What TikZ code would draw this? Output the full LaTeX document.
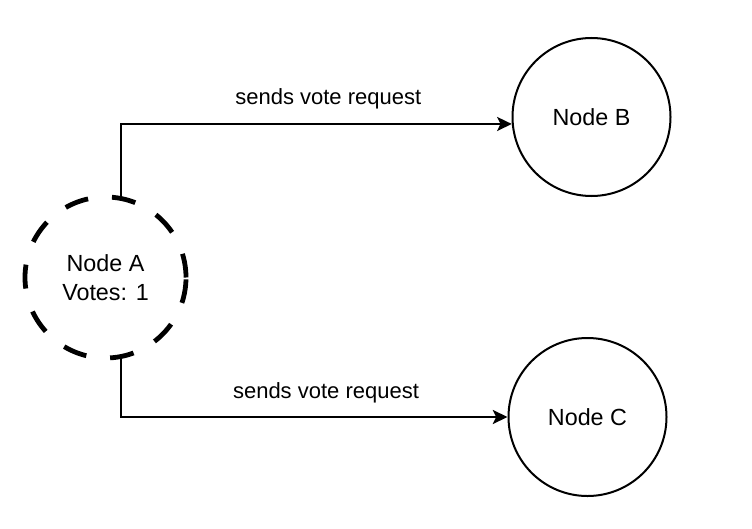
\documentclass[tikz,border=0pt]{standalone}
\usepackage{fontspec}
\setmainfont{Liberation Sans}
\usetikzlibrary{arrows.meta}

\begin{document}
\begin{tikzpicture}[x=0.75pt, y=-0.75pt,
    peer/.style={circle, draw, line width=1.5pt, minimum size=118.5pt, inner sep=0pt,
        align=center, font=\fontsize{17.5pt}{22pt}\selectfont},
    candidate/.style={peer, line width=3.6pt, dash pattern=on 18pt off 18pt, minimum size=120.75pt},
    msg/.style={line width=1.6pt, -{Stealth[length=11pt, width=10.5pt, inset=2.5pt]}},
    msglabel/.style={pos=0.765, yshift=18.5pt, font=\fontsize{16.5pt}{20pt}\selectfont}]
    \useasboundingbox (0,0) rectangle (752,528);

    \node[candidate] (A) at (105.5,277.5) {Node A\\Votes: 1};
    \node[peer] (B) at (591.5,117) {Node B};
    \node[peer] (C) at (587.5,417) {Node C};

    \draw[msg] (A.79) |- (B.185) node[msglabel] {sends vote request};
    \draw[msg] (A.281) |- (C.west) node[msglabel] {sends vote request};
\end{tikzpicture}
\end{document}
